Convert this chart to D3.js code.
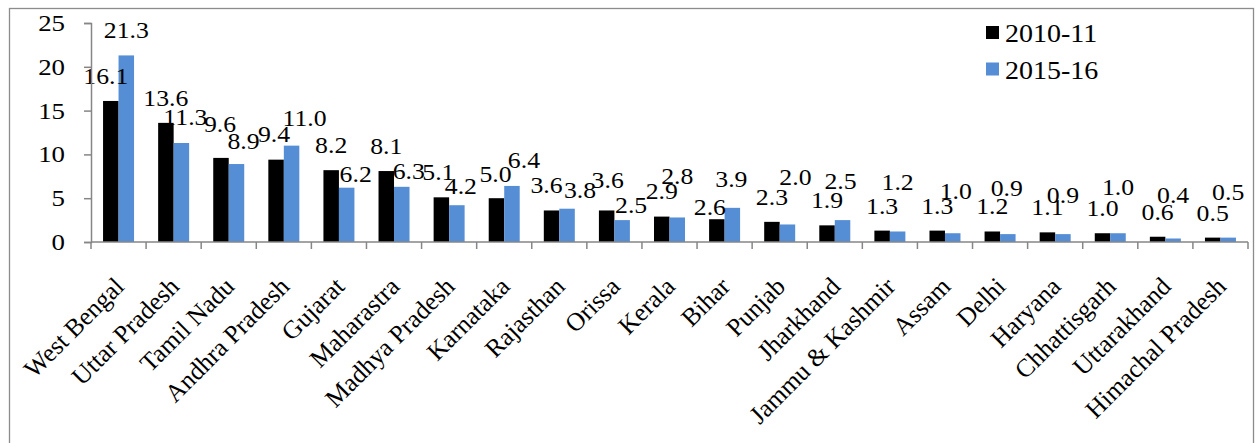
<!DOCTYPE html>
<html>
<head>
<meta charset="utf-8">
<script src="https://cdn.jsdelivr.net/npm/d3@7"></script>
<style>
html,body{margin:0;padding:0;background:#fff;}
svg{display:block;}
</style>
</head>
<body>
<svg id="chart" width="1257" height="443"></svg>
<script>
// ---- data ----
const states = ["West Bengal","Uttar Pradesh","Tamil Nadu","Andhra Pradesh","Gujarat","Maharastra","Madhya Pradesh","Karnataka","Rajasthan","Orissa","Kerala","Bihar","Punjab","Jharkhand","Jammu & Kashmir","Assam","Delhi","Haryana","Chhattisgarh","Uttarakhand","Himachal Pradesh"];
const series = ["2010-11","2015-16"];
const values2010 = [16.1,13.6,9.6,9.4,8.2,8.1,5.1,5.0,3.6,3.6,2.9,2.6,2.3,1.9,1.3,1.3,1.2,1.1,1.0,0.6,0.5];
const values2015 = [21.3,11.3,8.9,11.0,6.2,6.3,4.2,6.4,3.8,2.5,2.8,3.9,2.0,2.5,1.2,1.0,0.9,0.9,1.0,0.4,0.5];
const yTicks = [0,5,10,15,20,25];

// ---- layout (label nudges, as in the source picture) ----
const nudge2010 = [[-5,0],[0,0],[-1,-9],[-2,-1],[0,0],[0,0],[-3,0],[-1,1],[-5,0],[1,-5],[0,-1],[-7,13],[0,0],[0,0],[0,0],[0,0],[0,0],[0,0],[0,0],[0,0],[0,0]];
const nudge2015 = [[0,0],[4,-1],[7,2],[13,-3],[9,11],[7,9],[4,6],[12,-1],[13,6],[9,10],[0,-16],[-1,-4],[8,-22],[-2,-14],[0,-24],[3,-17],[-1,-21],[0,-14],[0,-21],[0,-18],[0,-21]];

const colors = {"2010-11":"#000000","2015-16":"#558ED5"};
const axisColor = "#868686";
const FONT = "Liberation Serif";
const fontSize = 23;
const stretch = 1.12;   // the source text is slightly wide

const svg = d3.select("#chart");
const pLeft = 91, pRight = 1248, pTop = 23, pBottom = 242;

// outer border
svg.append("rect").attr("x",9.5).attr("y",8.5).attr("width",1244).attr("height",460)
  .attr("fill","none").attr("stroke","#8c8c8c").attr("stroke-width",1.3);

const x0 = d3.scaleBand().domain(states).range([pLeft,pRight]).paddingInner(0.4375).paddingOuter(0.21875);
const x1 = d3.scaleBand().domain(series).range([0,x0.bandwidth()]);
const y = d3.scaleLinear().domain([0,25]).range([pBottom,pTop]);

// bars
const rows = states.map((s,i)=>({state:s,i,vals:[
  {key:"2010-11",v:values2010[i],n:nudge2010[i]},
  {key:"2015-16",v:values2015[i],n:nudge2015[i]}]}));

const g = svg.append("g");
const groups = g.selectAll("g.grp").data(rows).join("g").attr("class","grp")
  .attr("transform",d=>`translate(${x0(d.state)},0)`);
groups.selectAll("rect").data(d=>d.vals).join("rect")
  .attr("x",d=>x1(d.key)).attr("width",x1.bandwidth())
  .attr("y",d=>y(d.v)).attr("height",d=>y(0)-y(d.v))
  .attr("fill",d=>colors[d.key]);

// y axis (ticks from d3 axis, labels drawn with the same scale)
const yAxis = svg.append("g").attr("transform",`translate(${pLeft},0)`)
  .call(d3.axisLeft(y).tickValues(yTicks).tickSize(7).tickFormat(""));
yAxis.select(".domain").attr("stroke",axisColor).attr("stroke-width",1.5);
yAxis.selectAll(".tick line").attr("stroke",axisColor).attr("stroke-width",1.5);
svg.selectAll("text.ytl").data(yTicks).join("text").attr("class","ytl")
  .attr("transform",d=>`translate(${pLeft-26},${y(d)+8}) scale(${stretch},1)`)
  .attr("text-anchor","end").style("font-size","24px").style("font-family",FONT)
  .attr("fill","#000").text(d=>d);

// x axis line and boundary ticks
const step = x0.step();
svg.append("line").attr("x1",pLeft).attr("x2",pRight).attr("y1",y(0)).attr("y2",y(0))
  .attr("stroke",axisColor).attr("stroke-width",1.5);
svg.selectAll("line.xt").data(d3.range(states.length+1)).join("line").attr("class","xt")
  .attr("x1",i=>pLeft+i*step).attr("x2",i=>pLeft+i*step)
  .attr("y1",y(0)).attr("y2",y(0)+7).attr("stroke",axisColor).attr("stroke-width",1.5);

// category labels
svg.selectAll("text.cat").data(states).join("text").attr("class","cat")
  .attr("transform",d=>`translate(${x0(d)+x0.bandwidth()/2+7},${y(0)+46}) rotate(-45)`)
  .attr("text-anchor","end").style("font-size","25.5px").style("font-family",FONT)
  .attr("fill","#000").text(d=>d);

// value labels
groups.selectAll("text.val").data(d=>d.vals).join("text").attr("class","val")
  .attr("transform",d=>`translate(${x1(d.key)+x1.bandwidth()/2+d.n[0]},${y(d.v)-17+d.n[1]}) scale(${stretch},1)`)
  .attr("text-anchor","middle").style("font-size",fontSize+"px").style("font-family",FONT)
  .attr("fill","#000").text(d=>d3.format(".1f")(d.v));

// legend
const lg = svg.append("g");
series.forEach((s,i)=>{
  lg.append("rect").attr("x",986).attr("y",26+i*36.5).attr("width",13).attr("height",13).attr("fill",colors[s]);
  lg.append("text").attr("transform",`translate(1005,${42+i*37}) scale(${stretch},1)`)
    .style("font-size","25px").style("font-family",FONT)
    .attr("fill","#000").text(s);
});
</script>
</body>
</html>
